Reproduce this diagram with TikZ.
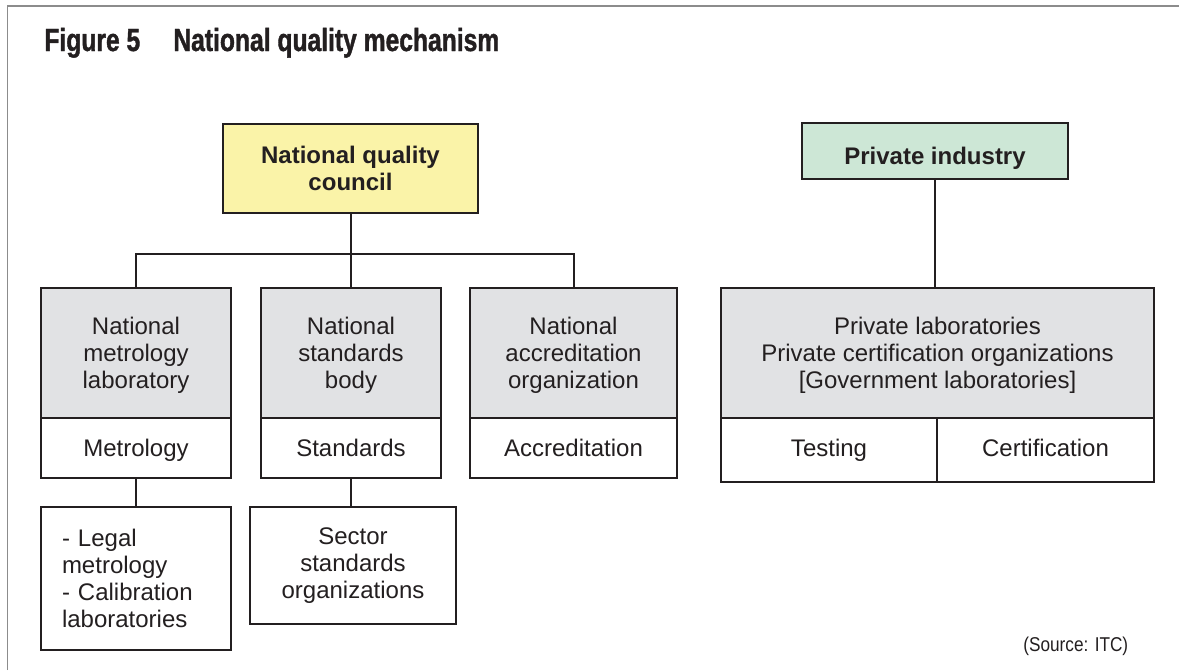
\documentclass[tikz,border=0pt]{standalone}
\usepackage{fontspec}
\setmainfont{Liberation Sans}
\newfontfamily\titlefont[FakeStretch=0.77, BoldFeatures={FakeBold=1.2}]{Liberation Sans}
\newfontfamily\srcfont[FakeStretch=0.86]{Liberation Sans}
\definecolor{councilyellow}{HTML}{FAF3A8}
\definecolor{industrygreen}{HTML}{CDE7D6}
\definecolor{boxgray}{HTML}{E1E2E4}
\definecolor{inkcol}{HTML}{231F20}
\definecolor{framecol}{HTML}{8C8C8C}
\tikzset{
  box/.style={draw=inkcol, line width=1pt, text=inkcol, align=center, inner sep=0pt,
    font=\fontsize{12}{13.5}\selectfont},
  headbox/.style={box, font=\fontsize{12}{13.5}\selectfont\bfseries},
  orgbox/.style={box, fill=boxgray, minimum height=65pt, text depth=0pt},
  taskbox/.style={box, fill=white, minimum height=30pt, text height=9pt, text depth=1pt},
  subbox/.style={box, fill=white},
  caption/.style={anchor=base west, inner sep=0pt, text=inkcol},
  link/.style={draw=inkcol, line width=1pt},
}
\begin{document}
\begin{tikzpicture}[x=0.5pt,y=-0.5pt]
\useasboundingbox (0,0) rectangle (1179,670);
\draw[framecol, line width=0.8pt] (7.5,670) -- (7.5,6) -- (1179,6);
% title and source
\node[caption, font=\titlefont\fontsize{16}{18}\selectfont\bfseries] (figno) at (44,51) {Figure 5};
\node[caption, font=\titlefont\fontsize{16}{18}\selectfont\bfseries] (figtitle) at (173,51) {National quality mechanism};
\node[caption, font=\srcfont\fontsize{10}{12}\selectfont] (source) at (1023,651) {(Source: ITC)};
% top level
\node[headbox, fill=councilyellow, minimum width=127.5pt, minimum height=44.5pt] (council) at (350.5,168.5) {National quality\\council};
\node[headbox, fill=industrygreen, minimum width=133pt, minimum height=28pt, text height=13pt, text depth=0pt] (industry) at (935,151) {Private industry};
% national bodies
\node[orgbox, minimum width=95pt] (metrolab) at (136,353) {National\\metrology\\laboratory};
\node[taskbox, minimum width=95pt] (metrology) at (136,448) {Metrology};
\node[orgbox, minimum width=90pt] (stdbody) at (351,353) {National\\standards\\body};
\node[taskbox, minimum width=90pt] (standards) at (351,448) {Standards};
\node[orgbox, minimum width=103.5pt] (accorg) at (573.5,353) {National\\accreditation\\organization};
\node[taskbox, minimum width=103.5pt] (accred) at (573.5,448) {Accreditation};
% private side
\node[orgbox, minimum width=216.5pt] (privlab) at (937.5,353) {Private laboratories\\Private certification organizations\\{[Government laboratories]}};
\node[taskbox, minimum width=108pt, minimum height=32pt, text depth=3pt] (testing) at (829,450) {Testing};
\node[taskbox, minimum width=108.5pt, minimum height=32pt, text depth=3pt] (certif) at (1045.5,450) {Certification};
% lower level
\node[subbox, text width=74pt, inner xsep=10.5pt, align=left, minimum height=71.5pt] (legal) at (136,578.5) {- Legal\\metrology\\- Calibration\\laboratories};
\node[subbox, minimum width=103pt, minimum height=58.5pt] (sector) at (353,565.5) {Sector\\standards\\organizations};
% connectors
\coordinate (bus) at (350.5,254);
\path[link] (council) -- (bus);
\path[link] (metrolab.north) |- (bus) -| (accorg.north);
\path[link] (stdbody.north) -- (stdbody.north |- bus);
\path[link] (metrology) -- (legal);
\path[link] (standards.south) -- (standards.south |- sector.north);
\path[link] (industry.south) -- (industry.south |- privlab.north);
\end{tikzpicture}
\end{document}
